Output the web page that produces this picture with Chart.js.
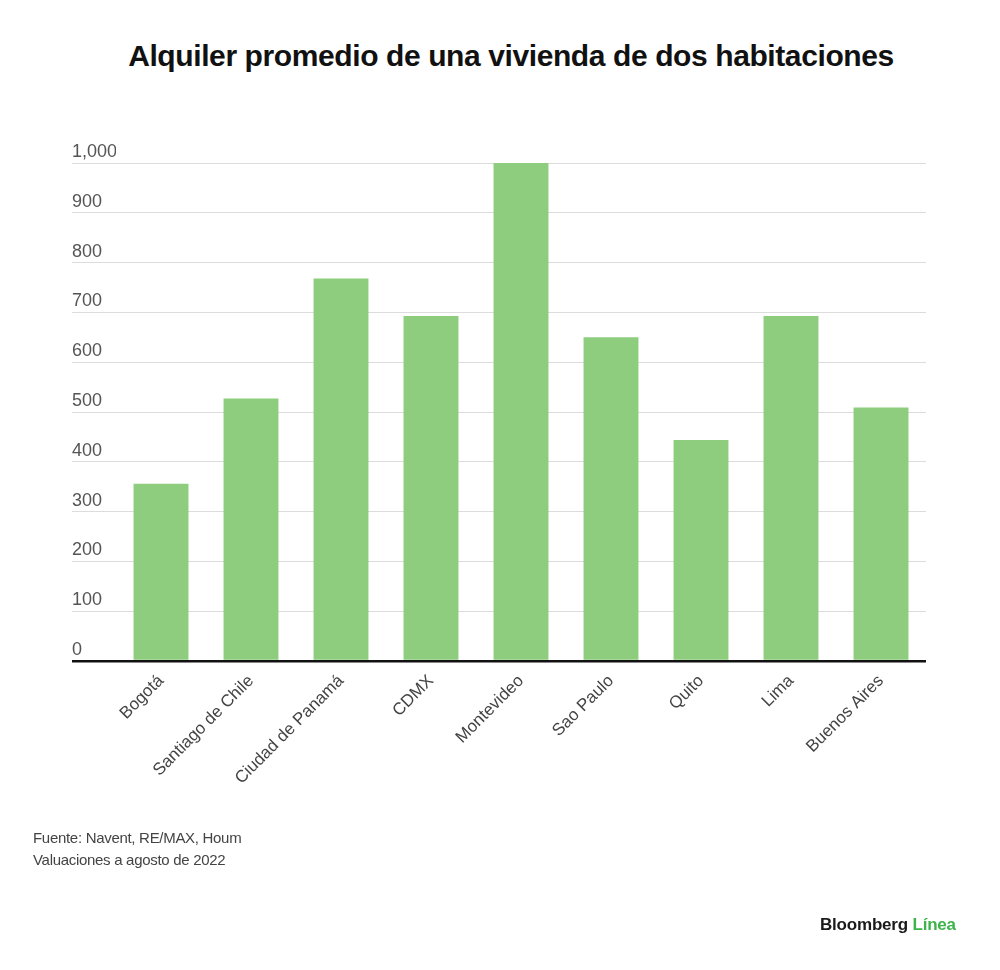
<!DOCTYPE html>
<html>
<head>
<meta charset="utf-8">
<script src="https://cdn.jsdelivr.net/npm/chart.js@4.4.0/dist/chart.umd.min.js"></script>
<style>
  html, body { margin: 0; padding: 0; background: #fff; }
  body { width: 1000px; height: 970px; position: relative; overflow: hidden; font-family: "Liberation Sans", Arial, sans-serif; }
  #titulo { position: absolute; left: 0; top: 39px; width: 1022px; text-align: center; font-size: 30px; font-weight: bold; color: #111; letter-spacing: -0.4px; }
  #fuente { position: absolute; left: 33px; top: 827px; font-size: 15px; line-height: 22px; color: #444; letter-spacing: -0.3px; }
  #logo { position: absolute; left: 820px; top: 915px; font-size: 17px; font-weight: bold; color: #1a1a1a; letter-spacing: -0.2px; }
  #logo span { color: #3cb44a; }
  canvas { position: absolute; left: 0; top: 0; }
</style>
</head>
<body>
<div id="titulo">Alquiler promedio de una vivienda de dos habitaciones</div>
<canvas id="grafico" width="1000" height="970"></canvas>
<div id="fuente">Fuente: Navent, RE/MAX, Houm<br>Valuaciones a agosto de 2022</div>
<div id="logo">Bloomberg <span>Línea</span></div>
<script>
// Datos (USD aprox.)
const ciudades = ['Bogotá', 'Santiago de Chile', 'Ciudad de Panamá', 'CDMX', 'Montevideo', 'Sao Paulo', 'Quito', 'Lima', 'Buenos Aires'];
const alquiler = [356, 527, 768, 693, 1000, 650, 444, 693, 509];
const ejeMin = 0;
const ejeMax = 1000;
const paso = 100;

const ctx = document.getElementById('grafico').getContext('2d');

new Chart(ctx, {
  type: 'bar',
  data: {
    labels: ciudades,
    datasets: [{
      label: 'Alquiler',
      data: alquiler,
      backgroundColor: '#8dcd7d',
      borderWidth: 0,
      categoryPercentage: 0.61,
      barPercentage: 1
    }]
  },
  options: {
    responsive: false,
    animation: false,
    layout: { padding: { left: 72, right: 74, top: 163, bottom: 159 } },
    plugins: {
      legend: { display: false },
      tooltip: { enabled: false }
    },
    scales: {
      x: {
        grid: { display: false, drawTicks: false },
        border: { display: false },
        ticks: {
          minRotation: 45,
          maxRotation: 45,
          padding: 10,
          color: '#444',
          font: { family: 'Liberation Sans', size: 17 }
        },
        afterFit: s => { s.height = 150; }
      },
      y: {
        min: ejeMin,
        max: ejeMax,
        border: { display: false },
        grid: {
          color: c => c.tick && c.tick.value === 0 ? '#111' : '#dcdcdc',
          lineWidth: c => c.tick && c.tick.value === 0 ? 2.5 : 1,
          drawTicks: true,
          tickLength: 44
        },
        ticks: {
          stepSize: paso,
          crossAlign: 'far',
          padding: 0,
          labelOffset: -11,
          color: '#555',
          font: { family: 'Liberation Sans', size: 18 },
          callback: v => v.toLocaleString('en-US')
        },
        afterFit: s => { s.width = 44; }
      }
    }
  }
});
</script>
</body>
</html>
